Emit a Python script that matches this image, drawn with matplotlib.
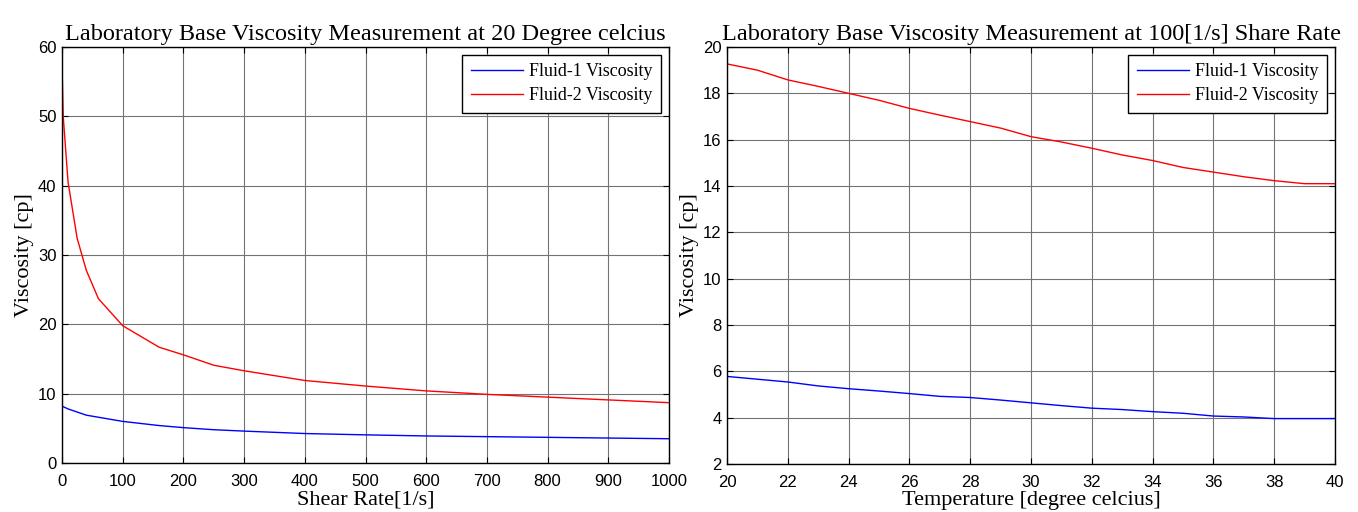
import matplotlib
matplotlib.use("Agg")
import matplotlib.pyplot as plt

# Left chart: viscosity vs shear rate at 20 degC
shear_f1 = [0, 10, 40, 100, 160, 200, 250, 300, 400, 500, 600, 700, 800, 900, 1000]
visc_f1 = [8.2, 7.8, 6.9, 6.0, 5.4, 5.1, 4.8, 4.6, 4.25, 4.06, 3.9, 3.8, 3.7, 3.6, 3.5]
shear_f2 = [0, 2, 10, 25, 40, 60, 100, 160, 200, 250, 300, 400, 500, 600, 700, 800, 900, 1000]
visc_f2 = [57.5, 50.0, 40.5, 32.4, 27.8, 23.7, 19.8, 16.7, 15.6, 14.1, 13.3, 11.9, 11.1, 10.4, 9.9, 9.5, 9.1, 8.7]

# Right chart: viscosity vs temperature at 100 1/s
temp = [20, 21, 22, 23, 24, 25, 26, 27, 28, 29, 30, 31, 32, 33, 34, 35, 36, 37, 38, 39, 40]
temp_f1 = [5.78, 5.66, 5.54, 5.37, 5.25, 5.15, 5.04, 4.92, 4.87, 4.76, 4.64, 4.52, 4.41, 4.35, 4.26, 4.19, 4.07, 4.03, 3.96, 3.96, 3.96]
temp_f2 = [19.27, 19.0, 18.58, 18.3, 18.0, 17.7, 17.35, 17.06, 16.78, 16.5, 16.13, 15.9, 15.63, 15.34, 15.1, 14.8, 14.6, 14.4, 14.23, 14.1, 14.1]

serif = "Liberation Serif"
sans = "Liberation Sans"

fig = plt.figure(figsize=(13.58, 5.12), dpi=100)
ax1 = fig.add_axes([62 / 1358, 1 - 463 / 512, 607 / 1358, 416 / 512])
ax2 = fig.add_axes([727 / 1358, 1 - 464 / 512, 608 / 1358, 417 / 512])


def style(ax):
    ax.grid(True, color="0.45", linewidth=0.8)
    ax.tick_params(direction="in", top=True, right=True, length=4, width=0.8,
                   labelsize=12)
    ax.tick_params(axis="x", pad=8)
    ax.tick_params(axis="y", pad=4)
    for lab in ax.get_xticklabels() + ax.get_yticklabels():
        lab.set_family(sans)
    for sp in ax.spines.values():
        sp.set_linewidth(1.0)


ax1.plot(shear_f1, visc_f1, color="blue", linewidth=1, label="Fluid-1 Viscosity")
ax1.plot(shear_f2, visc_f2, color="red", linewidth=1, label="Fluid-2 Viscosity")
ax1.set_xlim(0, 1000)
ax1.set_ylim(0, 60)
ax1.set_xticks(range(0, 1001, 100))
ax1.set_yticks(range(0, 61, 10))
ax1.set_title("Laboratory Base Viscosity Measurement at 20 Degree celcius",
              family=serif, fontsize=17.5, pad=5)
ax1.set_xlabel("Shear Rate[1/s]", family=serif, fontsize=16, labelpad=1)
ax1.set_ylabel("Viscosity [cp]", family=serif, fontsize=16, labelpad=3)
style(ax1)

ax2.plot(temp, temp_f1, color="blue", linewidth=1, label="Fluid-1 Viscosity")
ax2.plot(temp, temp_f2, color="red", linewidth=1, label="Fluid-2 Viscosity")
ax2.set_xlim(20, 40)
ax2.set_ylim(2, 20)
ax2.set_xticks(range(20, 41, 2))
ax2.set_yticks(range(2, 21, 2))
ax2.set_title("Laboratory Base Viscosity Measurement at 100[1/s] Share Rate",
              family=serif, fontsize=17.5, pad=5)
ax2.set_xlabel("Temperature [degree celcius]", family=serif, fontsize=16, labelpad=1)
ax2.set_ylabel("Viscosity [cp]", family=serif, fontsize=16, labelpad=3)
style(ax2)

for ax in (ax1, ax2):
    leg = ax.legend(loc="upper right", prop={"family": serif, "size": 13},
                    fancybox=False, framealpha=1, edgecolor="black",
                    handlelength=2.9, handletextpad=0.35, borderaxespad=0.45,
                    borderpad=0.45, labelspacing=0.4)
    leg.get_frame().set_linewidth(1.0)

fig.savefig("out.png", dpi=100)
